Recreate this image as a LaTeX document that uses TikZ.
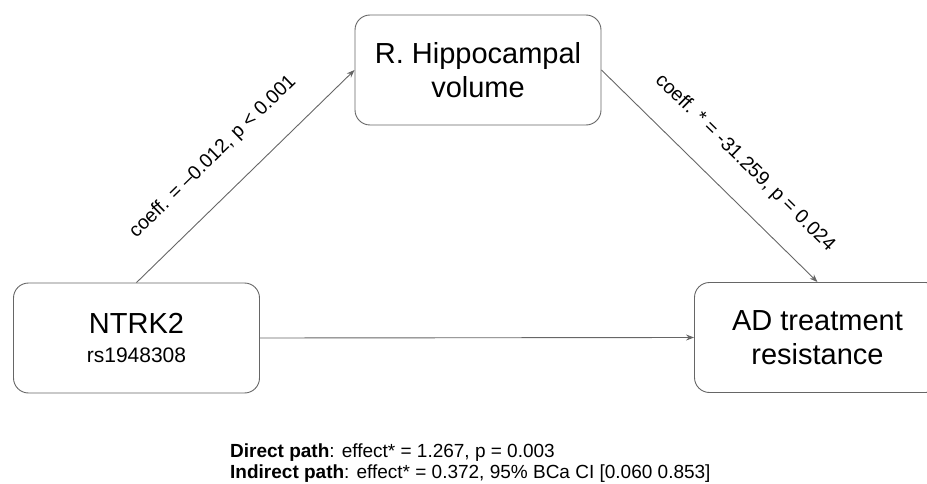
\documentclass[tikz,border=0pt]{standalone}
\usepackage{fontspec}
\setmainfont{Liberation Sans}
\usetikzlibrary{arrows.meta}
\definecolor{edgegray}{HTML}{666666}
\tikzset{
  box/.style={draw=edgegray, line width=0.9pt, rounded corners=15pt, fill=white,
    minimum width=246pt, minimum height=110pt, align=center, inner sep=0pt,
    font=\fontsize{29}{33.5}\selectfont},
  conn/.style={draw=edgegray, line width=0.9pt, -{Stealth[length=8pt,width=6pt]}},
  lbl/.style={inner sep=0pt, font=\fontsize{19.5}{22}\selectfont},
  note/.style={inner sep=0pt, anchor=base west, font=\fontsize{19}{22}\selectfont}
}
\begin{document}
\begin{tikzpicture}[x=1pt,y=1pt]
\useasboundingbox (0,0) rectangle (927,483);
\node[box] (ntrk) at (136.5,145) {NTRK2\\[-4pt]{\fontsize{21}{25}\selectfont rs1948308}};
\node[box] (hip) at (478,413) {R. Hippocampal\\volume};
\node[box] (ad) at (817.5,145.5) {AD treatment\\resistance};
\draw[conn] (ntrk.north) -- (hip.west);
\draw[conn] (hip.east) -- (ad.north);
\draw[conn] (ntrk.east) -- (ad.west);
\node[lbl, rotate=44.3] (l1) at (213,326) {coeff. = –0.012, p < 0.001};
\node[lbl, rotate=-44.5] (l2) at (745,320) {coeff. * = -31.259, p = 0.024};
\node[note] (d1) at (230,26) {\textbf{Direct path}: effect* = 1.267, p = 0.003};
\node[note] (d2) at (230,5) {\textbf{Indirect path}: effect* = 0.372, 95\% BCa CI [0.060 0.853]};
\end{tikzpicture}
\end{document}
